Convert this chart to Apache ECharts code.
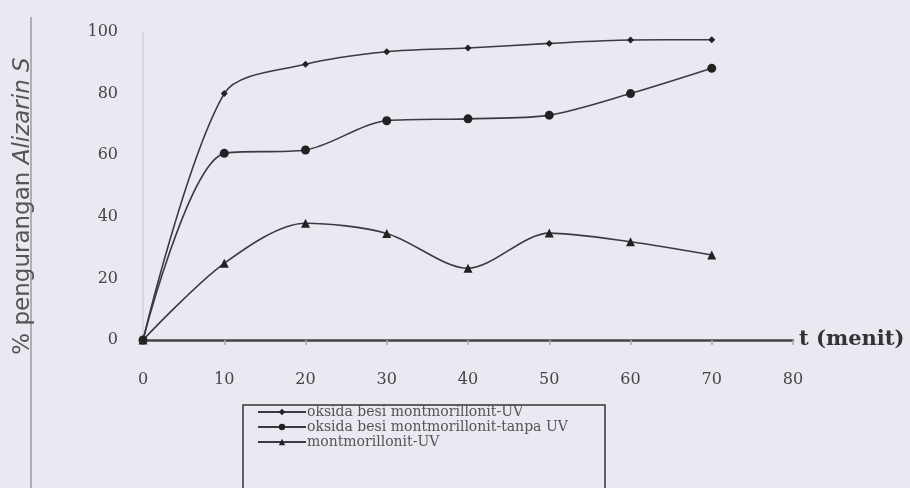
<!DOCTYPE html>
<html>
<head>
<meta charset="utf-8">
<script src="https://cdn.jsdelivr.net/npm/echarts@6/dist/echarts.min.js"></script>
<style>
html,body{margin:0;padding:0;background:#e9e9f1;}
#chart{width:910px;height:488px;}
</style>
</head>
<body>
<div id="chart"></div>
<script>
const times = [0, 10, 20, 30, 40, 50, 60, 70];
const seriesNames = [
  'oksida besi montmorillonit-UV',
  'oksida besi montmorillonit-tanpa UV',
  'montmorillonit-UV'
];
const uvIron = [0, 80, 89.5, 93.6, 94.8, 96.3, 97.4, 97.5];
const noUvIron = [0, 60.6, 61.7, 71.2, 71.8, 73, 80, 88.2];
const uvMont = [0, 24.9, 37.9, 34.6, 23.3, 34.7, 31.9, 27.6];
const xTicks = [0, 10, 20, 30, 40, 50, 60, 70, 80];
const yTicks = [0, 20, 40, 60, 80, 100];

const pairs = v => times.map((t, i) => [t, v[i]]);
const serif = '"DejaVu Serif", "Liberation Serif", serif';
const sans = '"DejaVu Sans", "Liberation Sans", sans-serif';
const lineColor = '#3a3a44';

const chart = echarts.init(document.getElementById('chart'));
chart.setOption({
  backgroundColor: '#e9e9f1',
  animation: false,
  grid: { left: 143, right: 117, top: 32, bottom: 148, containLabel: false },
  xAxis: {
    type: 'value', min: xTicks[0], max: xTicks[xTicks.length - 1], interval: 10,
    name: 't (menit)', nameLocation: 'end', nameGap: 6,
    nameTextStyle: { fontFamily: serif, fontWeight: 'bold', fontSize: 21, color: '#333', verticalAlign: 'middle', padding: [4, 0, 0, 0] },
    axisLine: { show: true, lineStyle: { color: '#444', width: 2.5 } },
    axisTick: { show: true, inside: false, length: 5, lineStyle: { color: '#aaa', width: 1.5 } },
    axisLabel: { fontFamily: serif, fontSize: 16, color: '#454545', margin: 32 },
    splitLine: { show: false }
  },
  yAxis: {
    type: 'value', min: yTicks[0], max: yTicks[yTicks.length - 1], interval: 20,
    axisLine: { show: true, lineStyle: { color: '#cfcfd8', width: 1.5 } },
    axisTick: { show: false },
    axisLabel: { fontFamily: serif, fontSize: 16, color: '#454545', margin: 25 },
    splitLine: { show: false }
  },
  legend: {
    orient: 'vertical', left: 243, top: 405,
    data: seriesNames,
    itemWidth: 48, itemHeight: 8, itemGap: 1,
    padding: [0, 40, 4, 14],
    textStyle: { fontFamily: serif, fontSize: 14, color: '#555', padding: [0, 0, 0, -4] }
  },
  graphic: [
    { type: 'line', shape: { x1: 31, y1: 17, x2: 31, y2: 488 }, style: { stroke: '#9a9aa2', lineWidth: 1.5 } },
    { type: 'rect', shape: { x: 243, y: 405, width: 362, height: 100 }, style: { fill: 'none', stroke: '#333', lineWidth: 1.5 } },
    {
      type: 'text', x: 23, y: 206, rotation: Math.PI / 2,
      style: {
        text: '{n|% pengurangan }{i|Alizarin S}',
        align: 'center', verticalAlign: 'middle',
        rich: {
          n: { fontFamily: sans, fontSize: 23, fill: '#555' },
          i: { fontFamily: sans, fontSize: 23, fontStyle: 'italic', fill: '#555' }
        }
      }
    }
  ],
  series: [
    { name: seriesNames[0], type: 'line', data: pairs(uvIron), smooth: 0.3,
      symbol: 'diamond', symbolSize: 7,
      lineStyle: { color: lineColor, width: 1.6 }, itemStyle: { color: '#222' } },
    { name: seriesNames[1], type: 'line', data: pairs(noUvIron), smooth: 0.3,
      symbol: 'circle', symbolSize: 9,
      lineStyle: { color: lineColor, width: 1.6 }, itemStyle: { color: '#222' } },
    { name: seriesNames[2], type: 'line', data: pairs(uvMont), smooth: 0.3,
      symbol: 'triangle', symbolSize: 9,
      lineStyle: { color: lineColor, width: 1.6 }, itemStyle: { color: '#222' } }
  ]
});
</script>
</body>
</html>
